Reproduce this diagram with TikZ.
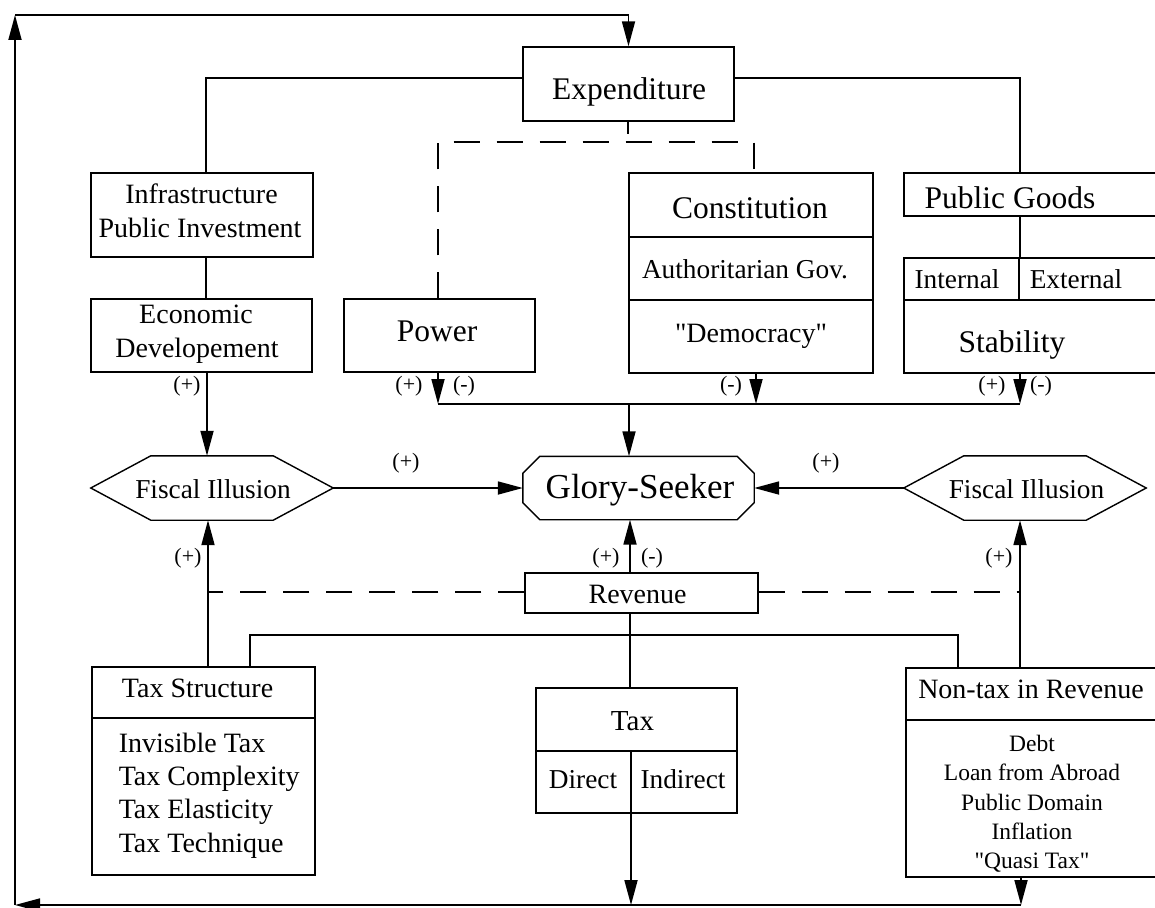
\documentclass[tikz,border=0pt]{standalone}
\usepackage{fontspec}
\setmainfont{Liberation Serif}[Ligatures=TeXOff]
\usetikzlibrary{arrows.meta}
\newcommand\fA{\fontsize{31.5}{36}\selectfont}
\newcommand\fB{\fontsize{28}{33}\selectfont}
\newcommand\fC{\fontsize{27.3}{32}\selectfont}
\newcommand\fG{\fontsize{35}{40}\selectfont}
\newcommand\fD{\fontsize{23.5}{28}\selectfont}
\newcommand\fT{\fontsize{29}{34}\selectfont}
\begin{document}
\begin{tikzpicture}[x=1pt,y=-1pt,
  bx/.style={draw, line width=1.4pt, inner sep=0pt, rectangle},
  ghost/.style={inner sep=0pt, rectangle},
  ln/.style={line width=1.4pt},
  ar/.style={line width=1.8pt, -{Triangle[length=25pt,width=13pt]}},
  dsh/.style={line width=1.8pt, dash pattern=on 26pt off 17pt},
  tx/.style={inner sep=0pt, anchor=base},
  txl/.style={inner sep=0pt, anchor=base west},
  lbl/.style={inner sep=0pt, anchor=base, font=\fontsize{22}{26}\selectfont}]
\useasboundingbox (0,0) rectangle (1155,907);
\fill[white] (0,0) rectangle (1155,907);
\clip (0,0) rectangle (1155,907);

% ---------- boxes ----------
\node[bx, minimum width=211pt, minimum height=74pt] (exp) at (628.5,84) {};
\node[tx] (expT) at (629,99) {\fA Expenditure};

\node[bx, minimum width=222pt, minimum height=84pt] (infra) at (202,215) {};
\node[tx] (infraT1) at (201.5,203) {\fB Infrastructure};
\node[tx] (infraT2) at (200,237) {\fB Public Investment};

\node[bx, minimum width=221pt, minimum height=73pt] (econ) at (201.5,335.5) {};
\node[tx] (econT1) at (196,323) {\fB Economic};
\node[tx] (econT2) at (197,357) {\fB Developement};

\node[bx, minimum width=191pt, minimum height=73pt] (power) at (439.5,335.5) {};
\node[tx] (powerT) at (437,341) {\fA Power};

\node[bx, minimum width=244pt, minimum height=200pt] (const) at (751,273) {};
\draw[ln] (const.west |- 0,237) -- (const.east |- 0,237);
\draw[ln] (const.west |- 0,300) -- (const.east |- 0,300);
\node[tx] (constT) at (750,218) {\fA Constitution};
\node[tx] (authT) at (745,278) {\fC Authoritarian Gov.};
\node[tx] (demT) at (751,342) {\fB "Democracy"};

\node[bx, minimum width=300pt, minimum height=43pt] (pg) at (1054,194.5) {};
\node[tx] (pgT) at (1010,208) {\fA Public Goods};

\node[bx, minimum width=300pt, minimum height=115pt] (stab) at (1054,315.5) {};
\draw[ln] (stab.west |- 0,300) -- (stab.east |- 0,300);
\draw[ln] (1019,0 |- stab.north) -- (1019,300);
\node[tx] (intT) at (957,288) {\fC Internal};
\node[tx] (extT) at (1076,288) {\fC External};
\node[tx] (stabT) at (1012,352) {\fA Stability};

% Fiscal illusion hexagons
\node[ghost, minimum width=242pt, minimum height=64pt] (fisL) at (212,488) {};
\draw[ln] (fisL.west) -- ([xshift=60pt]fisL.north west) -- ([xshift=-60pt]fisL.north east)
  -- (fisL.east) -- ([xshift=-60pt]fisL.south east) -- ([xshift=60pt]fisL.south west) -- cycle;
\node[tx] (fisLT) at (213,498) {\fC Fiscal Illusion};

\node[ghost, minimum width=242pt, minimum height=64pt] (fisR) at (1025,488) {};
\draw[ln] (fisR.west) -- ([xshift=60pt]fisR.north west) -- ([xshift=-60pt]fisR.north east)
  -- (fisR.east) -- ([xshift=-60pt]fisR.south east) -- ([xshift=60pt]fisR.south west) -- cycle;
\node[tx] (fisRT) at (1026.5,498) {\fC Fiscal Illusion};

% Glory-Seeker octagon
\node[ghost, minimum width=231pt, minimum height=63pt] (glory) at (638.5,488) {};
\draw[ln] ([xshift=17pt]glory.north west) -- ([xshift=-17pt]glory.north east)
  -- ([yshift=-17pt]glory.north east) -- ([yshift=17pt]glory.south east)
  -- ([xshift=-17pt]glory.south east) -- ([xshift=17pt]glory.south west)
  -- ([yshift=17pt]glory.south west) -- ([yshift=-17pt]glory.north west) -- cycle;
\node[tx] (gloryT) at (640,498) {\fG Glory-Seeker};

\node[bx, minimum width=233pt, minimum height=40pt] (rev) at (641.5,593) {};
\node[tx] (revT) at (637.6,603) {\fB Revenue};

\node[bx, minimum width=223pt, minimum height=208pt] (ts) at (203.5,771) {};
\draw[ln] (ts.west |- 0,718) -- (ts.east |- 0,718);
\node[tx] (tsT) at (197.6,697) {\fB Tax Structure};
\node[txl] (ts1) at (118.6,752) {\fB Invisible Tax};
\node[txl] (ts2) at (118.6,785) {\fB Tax Complexity};
\node[txl] (ts3) at (118.6,818) {\fB Tax Elasticity};
\node[txl] (ts4) at (118.6,852) {\fB Tax Technique};

\node[bx, minimum width=201pt, minimum height=125pt] (tax) at (636.5,750.5) {};
\draw[ln] (tax.west |- 0,751) -- (tax.east |- 0,751);
\node[tx] (taxT) at (632.5,730) {\fT Tax};
\node[tx] (dirT) at (583,788) {\fC Direct};
\node[tx] (indT) at (683,788) {\fC Indirect};

\node[bx, minimum width=300pt, minimum height=209pt] (nt) at (1056,772.5) {};
\draw[ln] (nt.west |- 0,720) -- (nt.east |- 0,720);
\node[tx] (ntT) at (1031,698) {\fB Non-tax in Revenue};
\node[tx] (nt1) at (1032,751) {\fD Debt};
\node[tx] (nt2) at (1032,780) {\fD Loan from Abroad};
\node[tx] (nt3) at (1032,810) {\fD Public Domain};
\node[tx] (nt4) at (1032,839) {\fD Inflation};
\node[tx] (nt5) at (1032,868) {\fD "Quasi Tax"};

% ---------- coordinates ----------
\coordinate (eL) at (206,78);
\coordinate (eR) at (1020,78);
\coordinate (eS) at (628,134);
\coordinate (dA) at (438,142);
\coordinate (dB) at (754,142);
\coordinate (cL) at (207,0);
\coordinate (cC) at (756,0);
\coordinate (cM) at (629,0);
\coordinate (cR) at (630,0);
\coordinate (cTS) at (208,0);
\coordinate (cN) at (1021,0);
\coordinate (bus) at (0,404);
\coordinate (dy) at (0,592);
\coordinate (hL) at (250,635);
\coordinate (hR) at (958,635);
\coordinate (tv) at (631,751);
\coordinate (bot) at (0,905);
\coordinate (bl) at (15,905);
\coordinate (tl) at (15,15);

% ---------- connectors ----------
\draw[ln] (exp.west |- eL) -- (eL) -- (eL |- infra.north);
\draw[ln] (exp.east |- eR) -- (eR) -- (eR |- pg.north);
\draw[ln] (eS |- exp.south) -- (eS);
\draw[dsh] (dA |- power.north) -- (dA) -- (dB) -- (dB |- const.north);
\draw[ln] (eL |- infra.south) -- (eL |- econ.north);
\draw[ln] (eR |- pg.south) -- (eR |- stab.north);

\draw[ar] (cL |- econ.south) -- (cL |- fisL.north);
\draw[ar] (dA |- power.south) -- (dA |- bus);
\draw[ar] (cC |- const.south) -- (cC |- bus);
\draw[ar] (eR |- stab.south) -- (eR |- bus);
\draw[ln] (dA |- bus) -- (eR |- bus);
\draw[ar] (cM |- bus) -- (cM |- glory.north);

\draw[ar] (fisL.east) -- (glory.west);
\draw[ar] (fisR.west) -- (glory.east);

\draw[ar] (cR |- rev.north) -- (cR |- glory.south);
\draw[ar] (cTS |- ts.north) -- (cTS |- fisL.south);
\draw[ar] (eR |- nt.north) -- (eR |- fisR.south);
\draw[dsh] (rev.west |- dy) -- (cTS |- dy);
\draw[dsh] (rev.east |- dy) -- (eR |- dy);

\draw[ln] (cR |- rev.south) -- (cR |- tax.north);
\draw[ln] (hL |- ts.north) -- (hL) -- (hR) -- (hR |- nt.north);

\draw[ln] (tv) -- (tv |- tax.south);
\draw[ar] (tv |- tax.south) -- (tv |- bot);
\draw[ar] (cN |- nt.south) -- (cN |- bot);
\draw[ar] (cN |- bot) -- (bl);
\draw[ar] (bl) -- (tl);
\draw[ar] (tl) -| (exp.north);

% ---------- labels ----------
\node[lbl] (l1) at (187,391) {(+)};
\node[lbl] (l2) at (409,391) {(+)};
\node[lbl] (l3) at (464,391) {(-)};
\node[lbl] (l4) at (731,391) {(-)};
\node[lbl] (l5) at (992,391) {(+)};
\node[lbl] (l6) at (1041,391) {(-)};
\node[lbl] (l7) at (406,468) {(+)};
\node[lbl] (l8) at (826,468) {(+)};
\node[lbl] (l9) at (188,563) {(+)};
\node[lbl] (l10) at (606,563) {(+)};
\node[lbl] (l11) at (652,563) {(-)};
\node[lbl] (l12) at (999,563) {(+)};
\end{tikzpicture}
\end{document}
